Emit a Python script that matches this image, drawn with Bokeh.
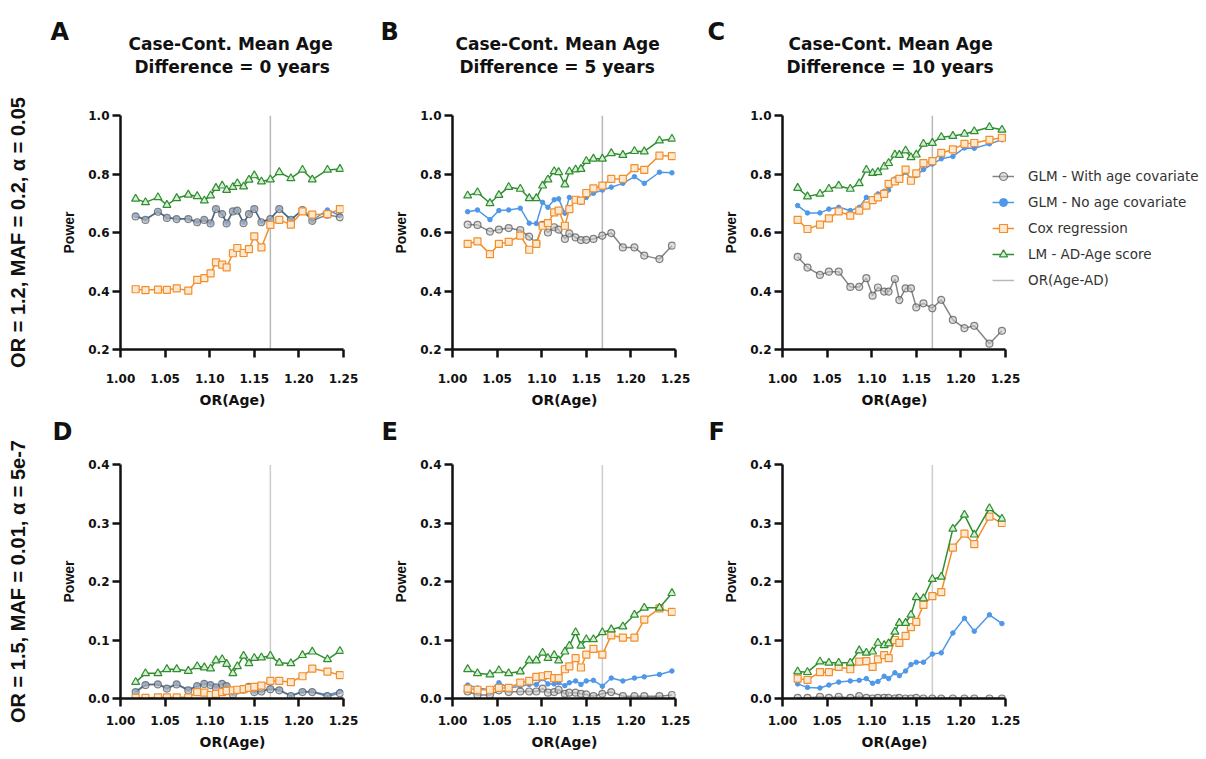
import math
from bokeh.plotting import figure
from bokeh.models import (Range1d, FixedTicker, PrintfTickFormatter, Legend, LegendItem, Title, LinearAxis)
from bokeh.layouts import row, column
from bokeh.embed import file_html
from bokeh.resources import INLINE

# ---------------- data ----------------
or_age = [1.017, 1.028, 1.042, 1.052, 1.063, 1.076, 1.086, 1.094, 1.101, 1.107, 1.114, 1.119, 1.126,
          1.131, 1.138, 1.144, 1.150, 1.158, 1.168, 1.178, 1.191, 1.204, 1.215, 1.232, 1.246]
or_age_ad = 1.168

x_ticks = [1.00, 1.05, 1.10, 1.15, 1.20, 1.25]
y_ticks_top = [0.2, 0.4, 0.6, 0.8, 1.0]
y_ticks_bottom = [0.0, 0.1, 0.2, 0.3, 0.4]

series_names = ["GLM - With age covariate", "GLM - No age covariate", "Cox regression", "LM - AD-Age score"]
vline_name = "OR(Age-AD)"

# Panel A: mean age difference 0 years, OR = 1.2, MAF = 0.2
A_glm_age = [0.655, 0.643, 0.671, 0.650, 0.646, 0.646, 0.635, 0.643, 0.631, 0.680, 0.663, 0.631, 0.672,
             0.675, 0.632, 0.663, 0.680, 0.635, 0.646, 0.680, 0.643, 0.677, 0.640, 0.661, 0.652]
A_glm_noage = [0.657, 0.645, 0.672, 0.651, 0.647, 0.647, 0.636, 0.644, 0.632, 0.681, 0.664, 0.632, 0.673,
               0.676, 0.633, 0.664, 0.681, 0.636, 0.647, 0.681, 0.644, 0.678, 0.641, 0.677, 0.658]
A_cox = [0.406, 0.403, 0.405, 0.404, 0.409, 0.401, 0.438, 0.444, 0.460, 0.498, 0.490, 0.481, 0.529,
         0.547, 0.530, 0.543, 0.587, 0.549, 0.626, 0.643, 0.627, 0.672, 0.661, 0.663, 0.680]
A_lm = [0.715, 0.703, 0.720, 0.694, 0.717, 0.729, 0.724, 0.709, 0.726, 0.752, 0.760, 0.745, 0.755,
        0.768, 0.757, 0.780, 0.795, 0.774, 0.781, 0.806, 0.785, 0.814, 0.781, 0.814, 0.817]

# Panel B: 5 years
B_glm_age = [0.627, 0.626, 0.603, 0.610, 0.615, 0.608, 0.586, 0.563, 0.626, 0.600, 0.618, 0.610, 0.578,
             0.597, 0.583, 0.574, 0.575, 0.578, 0.589, 0.598, 0.549, 0.549, 0.521, 0.509, 0.555]
B_glm_noage = [0.671, 0.677, 0.644, 0.675, 0.677, 0.683, 0.632, 0.631, 0.703, 0.686, 0.712, 0.715, 0.666,
               0.720, 0.715, 0.703, 0.720, 0.734, 0.745, 0.755, 0.768, 0.791, 0.768, 0.806, 0.804]
B_cox = [0.561, 0.570, 0.526, 0.561, 0.568, 0.589, 0.541, 0.561, 0.623, 0.632, 0.669, 0.675, 0.623,
         0.680, 0.712, 0.709, 0.735, 0.751, 0.760, 0.783, 0.783, 0.820, 0.814, 0.863, 0.861]
B_lm = [0.726, 0.737, 0.700, 0.728, 0.755, 0.749, 0.717, 0.717, 0.760, 0.781, 0.809, 0.806, 0.764,
        0.808, 0.815, 0.817, 0.844, 0.852, 0.852, 0.871, 0.865, 0.878, 0.877, 0.914, 0.920]

# Panel C: 10 years
C_glm_age = [0.517, 0.480, 0.455, 0.466, 0.466, 0.414, 0.414, 0.444, 0.384, 0.412, 0.398, 0.398, 0.441,
             0.369, 0.409, 0.409, 0.344, 0.358, 0.341, 0.370, 0.301, 0.273, 0.281, 0.220, 0.264]
C_glm_noage = [0.692, 0.667, 0.667, 0.680, 0.686, 0.675, 0.686, 0.720, 0.709, 0.732, 0.741, 0.745, 0.783,
               0.781, 0.806, 0.783, 0.795, 0.815, 0.834, 0.852, 0.860, 0.889, 0.888, 0.903, 0.917]
C_cox = [0.643, 0.612, 0.627, 0.648, 0.672, 0.658, 0.675, 0.692, 0.711, 0.720, 0.732, 0.766, 0.775,
         0.783, 0.815, 0.777, 0.802, 0.837, 0.844, 0.872, 0.884, 0.903, 0.906, 0.917, 0.924]
C_lm = [0.752, 0.723, 0.732, 0.749, 0.760, 0.749, 0.768, 0.814, 0.803, 0.806, 0.825, 0.837, 0.866,
        0.865, 0.880, 0.857, 0.866, 0.903, 0.906, 0.926, 0.930, 0.937, 0.946, 0.960, 0.951]

# Panel D: 0 years, OR = 1.5, MAF = 0.01
D_glm_age = [0.011, 0.023, 0.024, 0.017, 0.024, 0.014, 0.021, 0.025, 0.023, 0.019, 0.025, 0.021, 0.007,
             0.014, 0.015, 0.020, 0.011, 0.012, 0.016, 0.014, 0.004, 0.011, 0.011, 0.004, 0.009]
D_glm_noage = [0.012, 0.024, 0.025, 0.018, 0.025, 0.015, 0.022, 0.026, 0.024, 0.020, 0.026, 0.022, 0.008,
               0.015, 0.016, 0.021, 0.012, 0.013, 0.017, 0.015, 0.005, 0.012, 0.012, 0.006, 0.012]
D_cox = [0.001, 0.001, 0.002, 0.002, 0.002, 0.002, 0.011, 0.010, 0.006, 0.008, 0.011, 0.013, 0.014,
         0.015, 0.016, 0.018, 0.020, 0.022, 0.030, 0.030, 0.028, 0.038, 0.051, 0.046, 0.040]
D_lm = [0.028, 0.043, 0.043, 0.050, 0.050, 0.047, 0.055, 0.053, 0.051, 0.065, 0.067, 0.059, 0.043,
        0.055, 0.073, 0.060, 0.069, 0.070, 0.073, 0.061, 0.060, 0.074, 0.080, 0.067, 0.081]

# Panel E: 5 years
E_glm_age = [0.012, 0.006, 0.006, 0.014, 0.011, 0.012, 0.012, 0.012, 0.017, 0.010, 0.011, 0.015, 0.008,
             0.010, 0.010, 0.008, 0.007, 0.004, 0.008, 0.011, 0.004, 0.004, 0.004, 0.004, 0.006]
E_glm_noage = [0.023, 0.018, 0.015, 0.027, 0.018, 0.021, 0.024, 0.024, 0.034, 0.025, 0.025, 0.027, 0.022,
               0.027, 0.030, 0.024, 0.030, 0.031, 0.021, 0.035, 0.030, 0.035, 0.037, 0.041, 0.047]
E_cox = [0.017, 0.015, 0.015, 0.018, 0.018, 0.027, 0.030, 0.037, 0.038, 0.040, 0.035, 0.035, 0.050,
         0.055, 0.069, 0.053, 0.075, 0.085, 0.075, 0.108, 0.104, 0.104, 0.135, 0.154, 0.148]
E_lm = [0.050, 0.043, 0.041, 0.048, 0.043, 0.046, 0.065, 0.065, 0.078, 0.069, 0.074, 0.065, 0.080,
        0.090, 0.113, 0.090, 0.101, 0.101, 0.113, 0.118, 0.123, 0.143, 0.155, 0.155, 0.180]

# Panel F: 10 years
F_glm_age = [0.001, 0.001, 0.003, 0.001, 0.003, 0.001, 0.004, 0.001, 0.000, 0.001, 0.001, 0.001, 0.000,
             0.001, 0.000, 0.000, 0.001, 0.000, 0.000, 0.000, 0.000, 0.000, 0.000, 0.000, 0.000]
F_glm_noage = [0.025, 0.019, 0.018, 0.023, 0.028, 0.030, 0.031, 0.034, 0.026, 0.029, 0.038, 0.034, 0.044,
               0.039, 0.047, 0.058, 0.062, 0.062, 0.076, 0.078, 0.112, 0.137, 0.115, 0.143, 0.128]
F_cox = [0.034, 0.032, 0.045, 0.045, 0.054, 0.050, 0.063, 0.064, 0.054, 0.067, 0.074, 0.069, 0.100,
         0.095, 0.107, 0.122, 0.131, 0.160, 0.175, 0.182, 0.258, 0.282, 0.264, 0.311, 0.300]
F_lm = [0.046, 0.045, 0.063, 0.061, 0.061, 0.061, 0.082, 0.078, 0.080, 0.095, 0.091, 0.094, 0.114,
        0.129, 0.129, 0.143, 0.173, 0.171, 0.204, 0.208, 0.290, 0.314, 0.280, 0.325, 0.307]

panel_letters = ["A", "B", "C", "D", "E", "F"]
title_line1 = "Case-Cont. Mean Age"
title_line2 = ["Difference = 0 years", "Difference = 5 years", "Difference = 10 years"]
row_labels = ["OR = 1.2, MAF = 0.2, \u03b1 = 0.05", "OR = 1.5, MAF = 0.01, \u03b1 = 5e-7"]
x_label = "OR(Age)"
y_label = "Power"

# ---------------- styles ----------------
GRAY = "#505050"
BLUE = "#4f97e8"
ORANGE = "#f28e2b"
GREEN = "#2f8f2f"
INK = "#111111"
FONT_H = "DejaVu Sans"       # horizontal bold texts
FONT_V = "Liberation Sans"   # vertical bold texts

FRAME_W = 223                # px for 0.25 on the x axis
PX_PER_X = FRAME_W / 0.25

# geometry (page pixels)
TOP_H, BOT_H = 415, 344
TOP_T, TOP_B = 115, 66
BOT_T, BOT_B = 49, 61
COLS = [  # width, left border, right border
    (363, 120, 20),
    (330, 89, 18),
    (513, 89, 201),
]
C_EXT_RIGHT = 0            # panel C frame is extended to hold the legend
LETTER_OFF = [-70, -72, -75]
LETTER_OFF_B = [-68, -71, -74]
T1_OFF = [8, 3, 6]
T2_OFF = [14, 7, 4]


def style_axes(p, top_row):
    p.xaxis.ticker = FixedTicker(ticks=x_ticks)
    p.xaxis.formatter = PrintfTickFormatter(format="%.2f")
    p.yaxis.ticker = FixedTicker(ticks=y_ticks_top if top_row else y_ticks_bottom)
    p.yaxis.formatter = PrintfTickFormatter(format="%.1f")
    for ax in (p.xaxis[0], p.yaxis[0]):
        ax.axis_line_width = 2.5
        ax.axis_line_color = INK
        ax.major_tick_line_width = 2.5
        ax.major_tick_line_color = INK
        ax.major_tick_out = 8
        ax.major_tick_in = 0
        ax.minor_tick_line_color = None
        ax.major_label_text_font = FONT_H
        ax.major_label_text_font_style = "bold"
        ax.major_label_text_font_size = "12px"
        ax.major_label_text_color = INK
    p.xaxis.major_label_standoff = 16 if top_row else 9
    p.yaxis.major_label_standoff = 3
    p.yaxis.axis_label = y_label
    p.yaxis.axis_label_text_font = FONT_V
    p.yaxis.axis_label_text_font_style = "bold"
    p.yaxis.axis_label_text_font_size = "14px"
    p.yaxis.axis_label_standoff = 8
    p.yaxis.axis_label_text_color = INK


def bold_title(text, size, off, standoff, font=FONT_H):
    return Title(text=text, align="left", offset=off, standoff=standoff, text_font=font,
                 text_font_style="bold", text_font_size=size, text_color=INK)


def spacer(standoff):
    # blank title used only to push the real titles away from the frame
    return Title(text=" ", standoff=standoff, text_font=FONT_H, text_font_size="17px", text_color="white")


datasets = [
    (A_glm_age, A_glm_noage, A_cox, A_lm),
    (B_glm_age, B_glm_noage, B_cox, B_lm),
    (C_glm_age, C_glm_noage, C_cox, C_lm),
    (D_glm_age, D_glm_noage, D_cox, D_lm),
    (E_glm_age, E_glm_noage, E_cox, E_lm),
    (F_glm_age, F_glm_noage, F_cox, F_lm),
]

figs = []
legend_refs = None
for i in range(6):
    r, c = divmod(i, 3)
    top_row = r == 0
    w, l, rt = COLS[c]
    if top_row:
        h, t, b, yr = TOP_H, TOP_T, TOP_B, (0.2, 1.0)
    else:
        h, t, b, yr = BOT_H, BOT_T, BOT_B, (0.0, 0.4)
    x_end = 1.25
    if i == 2:
        rt = C_EXT_RIGHT
        x_end = 1.0 + (w - l - rt) / PX_PER_X
    p = figure(width=w, height=h, x_range=Range1d(1.0, x_end), y_range=Range1d(*yr),
               output_backend="svg", toolbar_location=None, title=None,
               min_border_left=l, min_border_right=rt, min_border_top=t, min_border_bottom=b)
    p.outline_line_color = None
    p.grid.visible = False
    p.border_fill_color = "white"
    style_axes(p, top_row)
    if i == 2:
        p.xaxis.bounds = (1.0, 1.25)

    glm_age, glm_noage, cox, lm = datasets[i]
    if top_row:
        vl = p.line([or_age_ad, or_age_ad], [yr[0], yr[1]], line_color="#b8b8b8", line_width=1.5)
    else:
        vl = p.line([or_age_ad, or_age_ad], [yr[0], yr[1]], line_color="#9a9a9a", line_width=1.5,
                    line_dash="1 1")
    rb_l = p.line(or_age, glm_noage, line_color=BLUE, line_width=1.5)
    rb_s = p.scatter(or_age, glm_noage, marker="circle", size=4.5, fill_color=BLUE, line_color=BLUE)
    rg_l = p.line(or_age, glm_age, line_color=GRAY, line_width=1.5, line_alpha=0.7)
    rg_s = p.scatter(or_age, glm_age, marker="circle", size=7, fill_color="#c8c8c8", fill_alpha=0.6,
                     line_color=GRAY, line_alpha=0.7, line_width=1.2)
    ro_l = p.line(or_age, cox, line_color=ORANGE, line_width=1.5)
    ro_s = p.scatter(or_age, cox, marker="square", size=7, fill_color="#fde8d2", line_color=ORANGE,
                     line_width=1.2)
    rt_l = p.line(or_age, lm, line_color=GREEN, line_width=1.5)
    rt_s = p.scatter(or_age, lm, marker="triangle", size=8, fill_color="#d8ecd8", line_color=GREEN,
                     line_width=1.2)
    if i == 2:
        legend_refs = [(rg_l, rg_s), (rb_l, rb_s), (ro_l, ro_s), (rt_l, rt_s), (vl,)]

    # x axis label (title below, centred under the 1.00-1.25 axis)
    p.add_layout(bold_title(x_label, "14px", 79, 8), "below")

    # titles above: nearest to the frame first
    if top_row:
        p.add_layout(spacer(7), "above")
        p.add_layout(bold_title(title_line2[c], "17px", T2_OFF[c], 20), "above")
        p.add_layout(bold_title(title_line1, "17px", T1_OFF[c], -18), "above")
        p.add_layout(bold_title(panel_letters[i], "24px", LETTER_OFF[c], -11), "above")
    else:
        p.add_layout(spacer(-1), "above")
        p.add_layout(bold_title(panel_letters[i], "24px", LETTER_OFF_B[c], -4), "above")

    # row label as an outer, tick-less left axis
    if c == 0:
        ax = LinearAxis(ticker=FixedTicker(ticks=[]), axis_line_color=None, major_tick_line_color=None,
                        minor_tick_line_color=None, major_tick_out=0, major_tick_in=0,
                        major_label_standoff=0, axis_label=row_labels[r], axis_label_standoff=30,
                        axis_label_text_font=FONT_V, axis_label_text_font_style="bold",
                        axis_label_text_font_size="20px", axis_label_text_color=INK)
        p.add_layout(ax, "left")
    figs.append(p)

# legend inside the extended frame of panel C
pc = figs[2]
items = [LegendItem(label=n, renderers=list(rs)) for n, rs in zip(series_names + [vline_name], legend_refs)]
leg = Legend(items=items, location=(210, 59), glyph_width=22, glyph_height=20, label_height=20, spacing=6,
             padding=0, margin=0, border_line_alpha=0, background_fill_alpha=0, label_standoff=14,
             label_text_font="DejaVu Sans", label_text_font_size="13.5px", label_text_color="#333333")
pc.add_layout(leg)

layout = column(row(*figs[:3]), row(*figs[3:]))
open("out.html", "w").write(file_html(layout, INLINE))
